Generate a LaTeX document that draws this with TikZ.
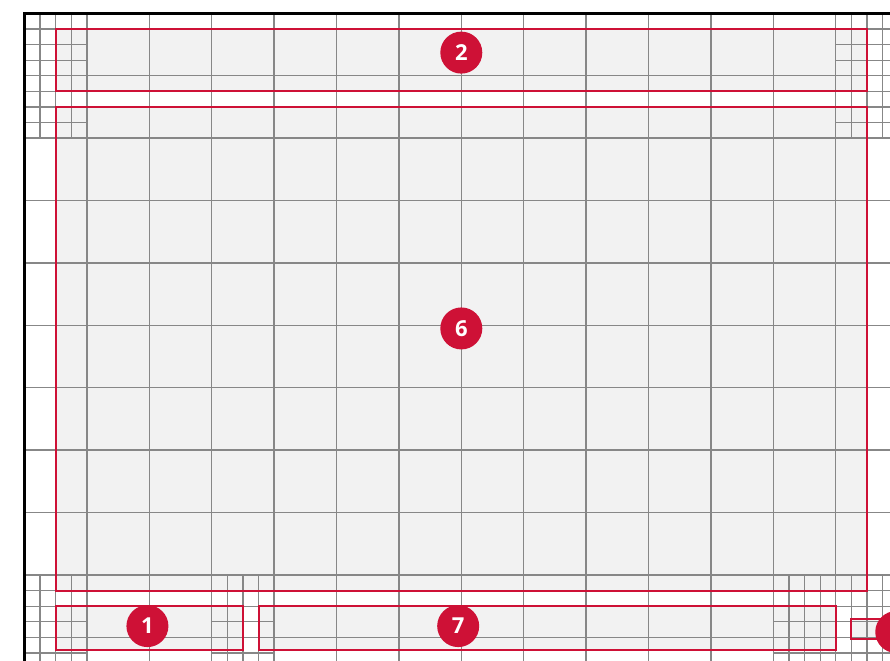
\documentclass[tikz,border=0pt]{standalone}
\usepackage{fontspec}
\setsansfont{Open Sans}
\definecolor{zonered}{RGB}{206,17,54}
\definecolor{zonefill}{RGB}{242,242,242}
\definecolor{gridgray}{RGB}{135,135,135}

\begin{document}
\begin{tikzpicture}[x=62.4pt,y=-62.4pt,
    major/.style={gridgray,line width=1.5pt},
    fine/.style={gridgray,line width=1.2pt},
    zone/.style={zonered,line width=2pt},
    badge/.style={circle,fill=zonered,text=white,minimum size=42pt,inner sep=0pt,
      font=\sffamily\bfseries\fontsize{22}{22}\selectfont}]
  \useasboundingbox (-0.3926,-0.2131) rectangle (13.870,10.364);
  \clip (-0.3926,-0.2131) rectangle (13.870,10.364);
  % zone backgrounds
  \fill[zonefill] (0.5,0.25) rectangle (13.5,1.25);
  \fill[zonefill] (0.5,1.5) rectangle (13.5,9.25);
  \fill[zonefill] (0.5,9.5) rectangle (3.5,10.21);
  \fill[zonefill] (3.75,9.5) rectangle (13,10.21);
  \fill[zonefill] (13.25,9.71) rectangle (14.2,10.03);
  % coarse grid
  \foreach \k in {1,...,13} \draw[major] (\k,0) -- (\k,10.5);
  \foreach \k in {1,...,10} \draw[major] (0,\k) -- (14,\k);
  % quarter cells in the corners and bottom rows
  \foreach \cx/\cy in {0/0,13/0,0/9,3/9,12/9,13/9}{
    \foreach \i in {0.25,0.5,0.75}{
      \draw[fine] ({\cx+\i},\cy) -- ({\cx+\i},{\cy+2});
      \draw[fine] (\cx,{\cy+\i}) -- ({\cx+1},{\cy+\i});
      \draw[fine] (\cx,{\cy+1+\i}) -- ({\cx+1},{\cy+1+\i});
    }
  }
  % frame
  \draw[black,line width=2.6pt] (0,10.5) -- (0,0) -- (14,0);
  % zones
  \draw[zone] (0.5,0.25) rectangle (13.5,1.25);
  \draw[zone] (0.5,1.5) rectangle (13.5,9.25);
  \draw[zone] (0.5,9.5) rectangle (3.5,10.21);
  \draw[zone] (3.75,9.5) rectangle (13,10.21);
  \draw[zone] (13.25,9.71) rectangle (14.2,10.03);
  % numbered badges
  \node[badge] (b2) at (7,0.63) {2};
  \node[badge] (b6) at (7,5.05) {6};
  \node[badge] (b1) at (1.97,9.82) {1};
  \node[badge] (b7) at (6.95,9.82) {7};
  \node[badge] (b8) at (13.97,9.915) {8};
\end{tikzpicture}
\end{document}
